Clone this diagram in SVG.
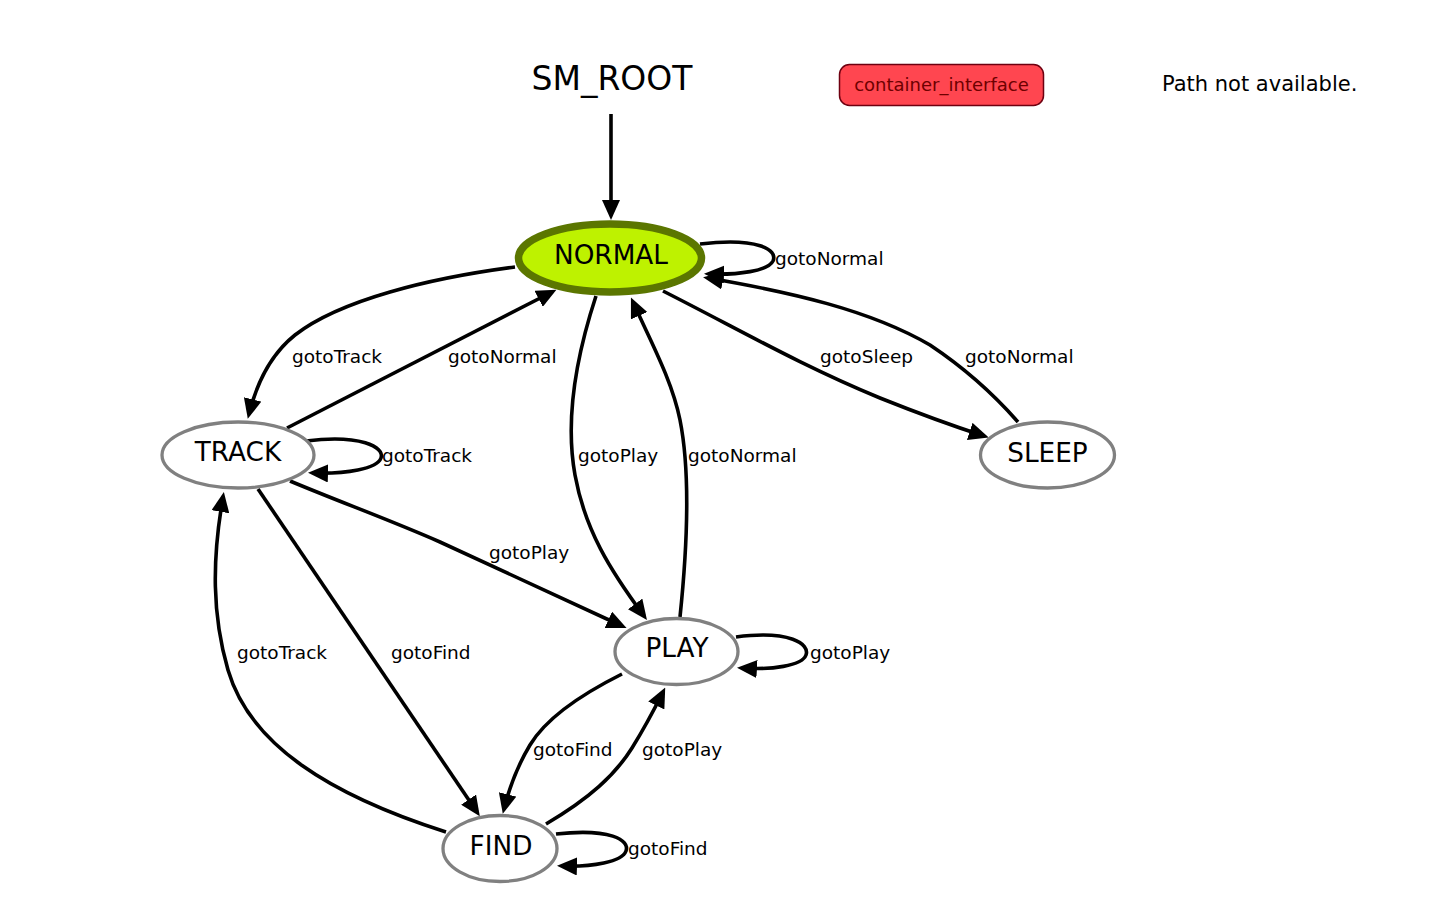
<svg xmlns="http://www.w3.org/2000/svg" width="1430" height="914" viewBox="0 0 1430 914">
<style>
.bg{fill:#ffffff}
.st{fill:#ffffff;stroke:#808080;stroke-width:3.3}
.nl{font-family:"DejaVu Sans",sans-serif;font-size:26.3px;fill:#000000;text-anchor:middle}
.el{font-family:"DejaVu Sans",sans-serif;font-size:18.5px;fill:#000000}
.e{fill:none;stroke:#000000;stroke-width:3.6}
</style>
<defs>
<marker id="ah" viewBox="0 0 10 10" refX="7.5" refY="5" markerUnits="userSpaceOnUse" markerWidth="20" markerHeight="18" preserveAspectRatio="none" orient="auto">
<path d="M0,0 L10,5 L0,10 z" fill="#000000"/>
</marker>
</defs>
<rect class="bg" x="0" y="0" width="1430" height="914"/>

<g id="connectors">
<path class="e" marker-end="url(#ah)" d="M611,114 L611,215"/>
<!-- NORMAL -> TRACK -->
<path class="e" marker-end="url(#ah)" d="M515,267 C430,278 340,300 295,335 C270,355 257,382 249,414"/>
<!-- TRACK -> NORMAL -->
<path class="e" marker-end="url(#ah)" d="M287,428 L552,292"/>
<!-- NORMAL self -->
<path class="e" marker-end="url(#ah)" d="M700,244 C758,237 778,250 773,261 C768,271 738,275 709,274"/>
<!-- NORMAL -> PLAY -->
<path class="e" marker-end="url(#ah)" d="M596,296 C575,360 565,420 575,475 C585,530 610,570 644,616"/>
<!-- PLAY -> NORMAL -->
<path class="e" marker-end="url(#ah)" d="M680,617 C688,540 690,470 680,420 C672,380 650,340 633,302"/>
<!-- NORMAL -> SLEEP -->
<path class="e" marker-end="url(#ah)" d="M663,291 C740,330 800,365 880,398 C920,414 950,425 984,436"/>
<!-- SLEEP -> NORMAL -->
<path class="e" marker-end="url(#ah)" d="M1018,422 C990,390 960,365 930,345 C870,310 790,292 708,278"/>
<!-- TRACK self -->
<path class="e" marker-end="url(#ah)" d="M306,441 C360,434 385,447 381,458 C377,469 346,474 313,473"/>
<!-- TRACK -> PLAY -->
<path class="e" marker-end="url(#ah)" d="M290,481 C340,502 390,520 440,542 C500,570 560,598 622,626"/>
<!-- TRACK -> FIND -->
<path class="e" marker-end="url(#ah)" d="M258,489 L477,812"/>
<!-- FIND -> TRACK -->
<path class="e" marker-end="url(#ah)" d="M446,832 C330,795 250,745 228,670 C212,615 212,560 223,497"/>
<!-- PLAY self -->
<path class="e" marker-end="url(#ah)" d="M736,637 C790,630 810,644 806,655 C802,666 771,670 742,668"/>
<!-- PLAY -> FIND -->
<path class="e" marker-end="url(#ah)" d="M622,674 C580,695 545,720 530,745 C518,765 510,785 504,809"/>
<!-- FIND -> PLAY -->
<path class="e" marker-end="url(#ah)" d="M546,824 C590,798 615,775 632,748 C645,727 655,708 663,692"/>
<!-- FIND self -->
<path class="e" marker-end="url(#ah)" d="M556,834 C610,828 630,840 626,851 C622,862 592,867 562,866"/>
</g>

<g id="edge-labels">
<text class="el" x="292" y="363">gotoTrack</text>
<text class="el" x="448" y="363">gotoNormal</text>
<text class="el" x="775" y="265">gotoNormal</text>
<text class="el" x="820" y="363">gotoSleep</text>
<text class="el" x="965" y="363">gotoNormal</text>
<text class="el" x="382" y="462">gotoTrack</text>
<text class="el" x="578" y="462">gotoPlay</text>
<text class="el" x="688" y="462">gotoNormal</text>
<text class="el" x="489" y="559">gotoPlay</text>
<text class="el" x="237" y="659">gotoTrack</text>
<text class="el" x="391" y="659">gotoFind</text>
<text class="el" x="810" y="659">gotoPlay</text>
<text class="el" x="533" y="756">gotoFind</text>
<text class="el" x="642" y="756">gotoPlay</text>
<text class="el" x="628" y="855">gotoFind</text>
</g>

<g id="SM_ROOT">
<text x="612" y="90" font-family="DejaVu Sans, sans-serif" font-size="33" text-anchor="middle" fill="#000000">SM_ROOT</text>
</g>

<g id="container_interface">
<rect x="839.5" y="64.5" width="204" height="41" rx="10" ry="10" fill="#ff4650" stroke="#6e0010" stroke-width="1.5"/>
<text x="941.5" y="91" font-family="DejaVu Sans, sans-serif" font-size="18" text-anchor="middle" fill="#6e0000">container_interface</text>
</g>

<g id="path_info">
<text x="1162" y="91" font-family="DejaVu Sans, sans-serif" font-size="21" fill="#000000">Path not available.</text>
</g>

<g id="NORMAL">
<ellipse cx="610" cy="258" rx="91.5" ry="34" fill="#bef200" stroke="#5b7600" stroke-width="7.5"/>
<text class="nl" x="611" y="264">NORMAL</text>
</g>
<g id="TRACK">
<ellipse class="st" cx="238" cy="455" rx="76" ry="33"/>
<text class="nl" x="238" y="461">TRACK</text>
</g>
<g id="SLEEP">
<ellipse class="st" cx="1047.5" cy="455" rx="67" ry="33"/>
<text class="nl" x="1047.5" y="462">SLEEP</text>
</g>
<g id="PLAY">
<ellipse class="st" cx="676.5" cy="651.5" rx="61.5" ry="33"/>
<text class="nl" x="677" y="657">PLAY</text>
</g>
<g id="FIND">
<ellipse class="st" cx="500" cy="848.5" rx="57" ry="33"/>
<text class="nl" x="501" y="855">FIND</text>
</g>
</svg>
